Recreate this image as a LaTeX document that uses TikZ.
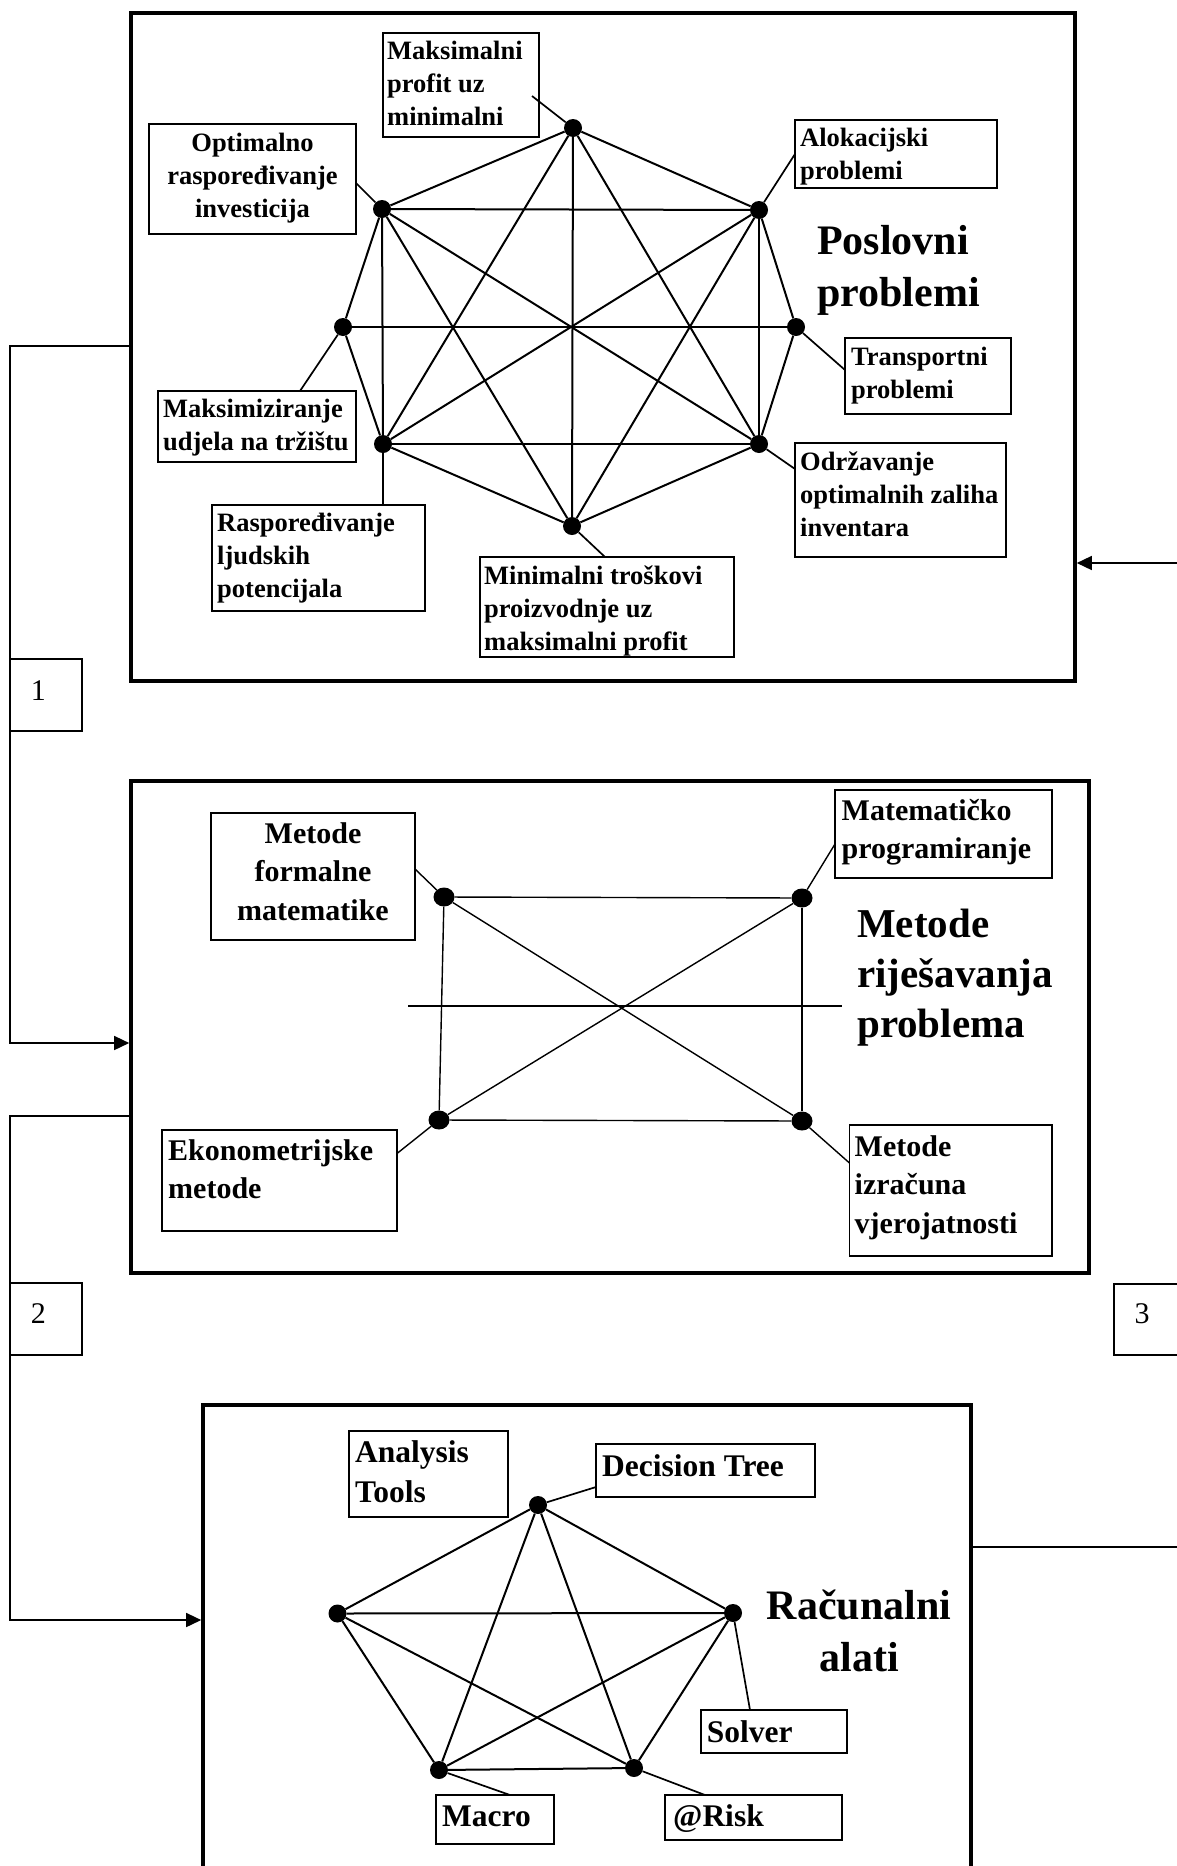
\documentclass[tikz,border=0pt]{standalone}
\usepackage{fontspec}
\setmainfont{Liberation Serif}
\usetikzlibrary{arrows.meta,shapes.geometric}
\newcommand\RBox[6]{\node[#1, minimum width={#5-#3}, minimum height={#6-#4}] (#2) at ({(#3+#5)/2},{(#4+#6)/2}) {};}
\begin{document}
\begin{tikzpicture}[x=1pt,y=-1pt,
  bigbox/.style={draw, line width=3.6pt, inner sep=0},
  lab/.style={draw, line width=1.6pt, inner sep=0, fill=white},
  numbox/.style={draw, line width=1.3pt, inner sep=0, fill=white},
  vdot/.style={circle, fill, inner sep=0, minimum size=18pt},
  mdot/.style={ellipse, fill, inner sep=0, minimum width=21pt, minimum height=19pt},
  lnA/.style={line width=2pt},
  lnB/.style={line width=1.4pt},
  lnC/.style={line width=1.7pt},
  conn/.style={line width=1.5pt},
  arr/.style={-{Triangle[length=15pt,width=14pt]}},
  fTop/.style={font={\fontsize{26.5}{33}\selectfont\bfseries}, inner sep=0},
  fMid/.style={font={\fontsize{30}{38.5}\selectfont\bfseries}, inner sep=0},
  fBot/.style={font={\fontsize{31.5}{40.5}\selectfont\bfseries}, inner sep=0},
  fTitle/.style={font={\fontsize{42}{52}\selectfont\bfseries}, inner sep=0},
  fNum/.style={font={\fontsize{30}{36}\selectfont}, inner sep=0},
]
\useasboundingbox (0,0) rectangle (1176,1866);
\fill[white] (0,0) rectangle (1176,1866);

% ---------- main boxes ----------
\RBox{bigbox}{topbox}{131}{13}{1075}{681}
\RBox{bigbox}{midbox}{131}{781}{1089}{1273}
\RBox{bigbox}{botbox}{203}{1405}{971}{1892}

% ---------- connectors between the boxes ----------
\coordinate (k1a) at (10,346);
\coordinate (k1b) at (10,1043);
\coordinate (k2a) at (10,1116);
\coordinate (k2b) at (10,1620);
\coordinate (k3a) at (1186,1547);
\coordinate (k3b) at (1186,563);
\draw[conn,arr] (topbox.west |- k1a) -- (k1a) -- (k1b) -- (midbox.west |- k1b);
\draw[conn,arr] (midbox.west |- k2a) -- (k2a) -- (k2b) -- (botbox.west |- k2b);
\draw[conn,arr] (botbox.east |- k3a) -- (k3a) -- (k3b) -- (topbox.east |- k3b);

\RBox{numbox}{nb1}{10}{659}{82}{731}
\RBox{numbox}{nb2}{10}{1283}{82}{1355}
\RBox{numbox}{nb3}{1114}{1284}{1186}{1355}
\node[fNum, anchor=base] (nt1) at (38.3,700) {1};
\node[fNum, anchor=base] (nt2) at (38.3,1323) {2};
\node[fNum, anchor=base] (nt3) at (1142,1323) {3};

% ---------- top section: Poslovni problemi ----------
\node[vdot] (t1)  at (573,128) {};
\node[vdot] (tul) at (382,209) {};
\node[vdot] (tur) at (759,210) {};
\node[vdot] (tl)  at (343,327) {};
\node[vdot] (tr)  at (796,327) {};
\node[vdot] (tll) at (383,444) {};
\node[vdot] (tlr) at (759,444) {};
\node[vdot] (tb)  at (572,526) {};
\foreach \a/\b in {t1/tul,t1/tur,t1/tll,t1/tlr,t1/tb,
                   tul/tur,tul/tl,tul/tll,tul/tlr,tul/tb,
                   tur/tr,tur/tlr,tur/tll,tur/tb,
                   tl/tr,tl/tll,tr/tlr,tll/tlr,tll/tb,tlr/tb}
  \draw[lnA] (\a) -- (\b);

\RBox{lab}{lbA}{383}{33}{539}{137}
\RBox{lab}{lbB}{149}{124}{356}{234}
\RBox{lab}{lbC}{795}{120}{997}{188}
\RBox{lab}{lbD}{845}{338}{1011}{414}
\RBox{lab}{lbE}{795}{443}{1006}{557}
\RBox{lab}{lbF}{158}{391}{356}{462}
\RBox{lab}{lbG}{212}{505}{425}{611}
\RBox{lab}{lbH}{480}{557}{734}{657}

\coordinate (eA) at (532,96);
\coordinate (eB) at (356,183);
\coordinate (eC) at (795,154);
\coordinate (eD) at (845,370);
\coordinate (eE) at (795,469);
\coordinate (eF) at (300,391);
\coordinate (eG) at (383,505);
\coordinate (eH) at (605,557);
\draw[lnC] (t1) -- (eA);
\draw[lnC] (tul) -- (eB);
\draw[lnC] (tur) -- (eC);
\draw[lnC] (tr) -- (eD);
\draw[lnC] (tlr) -- (eE);
\draw[lnC] (tl) -- (eF);
\draw[lnC] (tll) -- (eG);
\draw[lnC] (tb) -- (eH);

\node[fTop, anchor=base west] (xA) at (387,59) {\parbox[t]{300pt}{\raggedright Maksimalni\\profit uz\\minimalni}};
\node[fTop, anchor=base] (xB) at (252.5,151) {\parbox[t]{300pt}{\centering Optimalno\\raspoređivanje\\investicija}};
\node[fTop, anchor=base west] (xC) at (800,146) {\parbox[t]{300pt}{\raggedright Alokacijski\\problemi}};
\node[fTop, anchor=base west] (xD) at (851,365) {\parbox[t]{300pt}{\raggedright Transportni\\problemi}};
\node[fTop, anchor=base west] (xE) at (800,470) {\parbox[t]{300pt}{\raggedright Održavanje\\optimalnih zaliha\\inventara}};
\node[fTop, anchor=base west] (xF) at (163,417) {\parbox[t]{300pt}{\raggedright Maksimiziranje\\udjela na tržištu}};
\node[fTop, anchor=base west] (xG) at (217,531) {\parbox[t]{300pt}{\raggedright Raspoređivanje\\ljudskih\\potencijala}};
\node[fTop, anchor=base west] (xH) at (484,584) {\parbox[t]{300pt}{\raggedright Minimalni troškovi\\proizvodnje uz\\maksimalni profit}};
\node[fTitle, anchor=base west] (ttl1) at (817,254) {\parbox[t]{300pt}{\raggedright Poslovni\\problemi}};

% ---------- middle section: Metode rješavanja ----------
\node[mdot] (mul) at (444,897) {};
\node[mdot] (mur) at (802,898) {};
\node[mdot] (mll) at (439,1120) {};
\node[mdot] (mlr) at (802,1121) {};
\foreach \a/\b in {mul/mur,mll/mlr,mul/mll,mur/mlr,mul/mlr,mll/mur}
  \draw[lnB] (\a) -- (\b);
\coordinate (hA) at (408,1006);
\coordinate (hB) at (842,1006);
\draw[lnB] (hA) -- (hB);

\RBox{lab}{lbI}{211}{813}{415}{940}
\RBox{lab}{lbJ}{162}{1130}{397}{1231}
\RBox{lab}{lbK}{835}{790}{1052}{878}
\RBox{lab}{lbL}{849.5}{1125}{1052}{1256}
\coordinate (eI) at (415,869);
\coordinate (eJ) at (397,1153.5);
\coordinate (eK) at (835,844);
\coordinate (eL) at (849.5,1163);
\draw[lnB] (mul) -- (eI);
\draw[lnB] (mll) -- (eJ);
\draw[lnB] (mur) -- (eK);
\draw[lnB] (mlr) -- (eL);

\node[fMid, anchor=base] (xI) at (313,843) {\parbox[t]{300pt}{\centering Metode\\formalne\\matematike}};
\node[fMid, anchor=base west] (xJ) at (168,1160) {\parbox[t]{300pt}{\raggedright Ekonometrijske\\metode}};
\node[fMid, anchor=base west] (xK) at (841.5,820) {\parbox[t]{300pt}{\raggedright Matematičko\\programiranje}};
\node[fMid, anchor=base west] (xL) at (854.5,1156) {\parbox[t]{300pt}{\raggedright Metode\\izračuna\\vjerojatnosti}};
\node[fTitle, font={\fontsize{41}{50}\selectfont\bfseries}, anchor=base west] (ttl2) at (857,937) {\parbox[t]{300pt}{\raggedright Metode\\riješavanja\\problema}};

% ---------- bottom section: Računalni alati ----------
\node[vdot] (bt)  at (538,1505) {};
\node[vdot] (bl)  at (337.5,1613.5) {};
\node[vdot] (br)  at (733,1613) {};
\node[vdot] (bbl) at (439,1770) {};
\node[vdot] (bbr) at (634,1768) {};
\foreach \a/\b in {bt/bl,bt/br,bt/bbl,bt/bbr,bl/br,bl/bbl,bl/bbr,br/bbl,br/bbr,bbl/bbr}
  \draw[lnA] (\a) -- (\b);

\RBox{lab}{lbM}{349}{1431}{508}{1517}
\RBox{lab}{lbN}{596}{1444}{815}{1497}
\RBox{lab}{lbO}{701}{1710}{847}{1753}
\RBox{lab}{lbP}{665}{1795}{842}{1840}
\RBox{lab}{lbQ}{436}{1795}{554}{1844}
\coordinate (eN) at (596,1487);
\coordinate (eO) at (750,1710);
\coordinate (eP) at (705,1795);
\coordinate (eQ) at (510,1795);
\draw[lnC] (bt) -- (eN);
\draw[lnC] (br) -- (eO);
\draw[lnC] (bbr) -- (eP);
\draw[lnC] (bbl) -- (eQ);

\node[fBot, anchor=base west] (xM) at (355,1462) {\parbox[t]{300pt}{\raggedright Analysis\\Tools}};
\node[fBot, anchor=base west] (xN) at (602,1476) {Decision Tree};
\node[fBot, anchor=base west] (xO) at (706.6,1742) {Solver};
\node[fBot, anchor=base west] (xP) at (673,1826) {@Risk};
\node[fBot, anchor=base west] (xQ) at (442,1826) {Macro};
\node[fTitle, anchor=base] (ttl3) at (859,1619.5) {\parbox[t]{300pt}{\centering Računalni\\alati}};
\end{tikzpicture}
\end{document}
